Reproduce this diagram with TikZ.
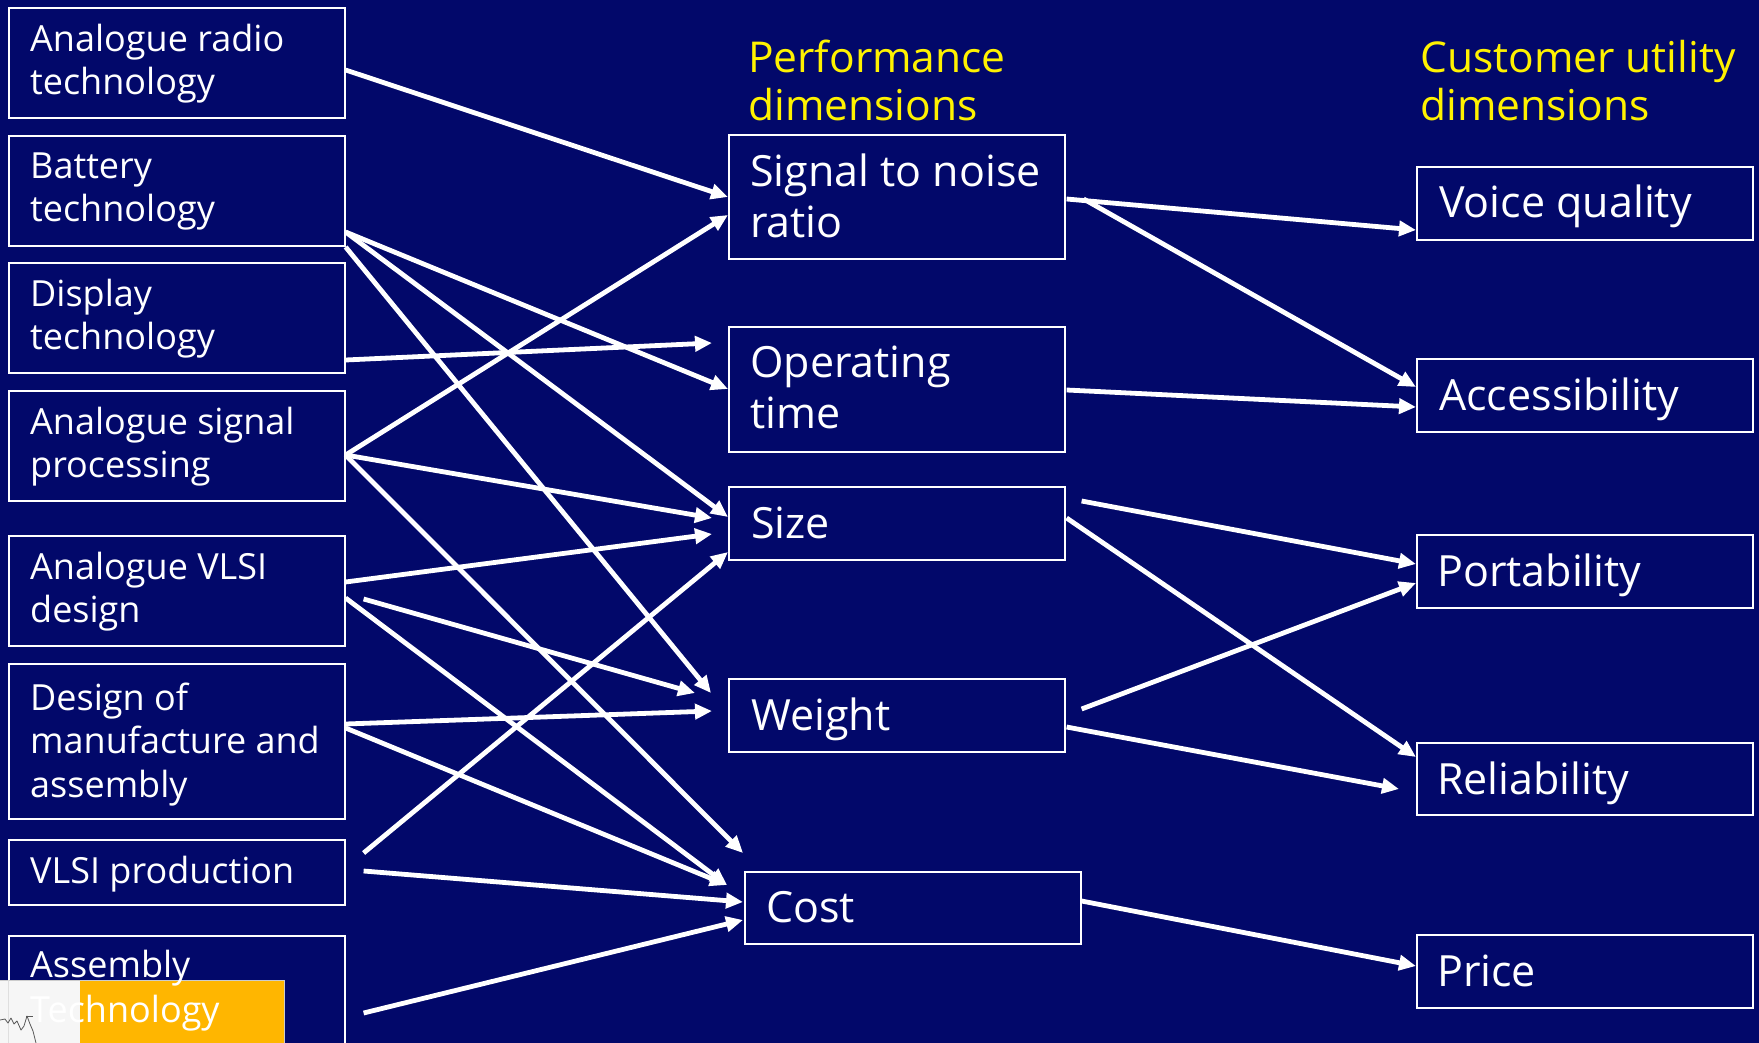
\documentclass[tikz,border=0pt]{standalone}
\usepackage{fontspec}
\setmainfont{Open Sans}
\usetikzlibrary{arrows.meta}
\definecolor{navybg}{RGB}{2,8,106}
\definecolor{ovorange}{RGB}{255,182,0}
\definecolor{ovwhite}{RGB}{246,246,246}
\begin{document}
\begin{tikzpicture}[x=1pt,y=-1pt,
  box/.style={draw=white, line width=1.6pt, inner sep=0pt, anchor=north west, fill=none},
  lbox/.style={box, minimum width=336pt},
  mbox/.style={box, minimum width=336pt},
  ltxt/.style={text=white, font=\fontsize{36}{44}\selectfont, inner sep=0pt, anchor=base west},
  mtxt/.style={text=white, font=\fontsize{43}{50}\selectfont, inner sep=0pt, anchor=base west},
  ttl/.style={text=yellow, font=\fontsize{42.5}{50}\selectfont, inner sep=0pt, anchor=base west},
  arr/.style={draw=white, line width=4.8pt, -{Triangle[length=17pt,width=15pt]}}]
\fill[navybg] (0,0) rectangle (1759,1043);
\useasboundingbox (0,0) rectangle (1759,1043);
\clip (0,0) rectangle (1759,1043);

% ---------- left column boxes ----------
\node[lbox, minimum height=110pt] (b1) at (8,7) {};
\node[lbox, minimum height=110pt] (b2) at (8,135) {};
\node[lbox, minimum height=110pt] (b3) at (8,262) {};
\node[lbox, minimum height=110pt] (b4) at (8,390) {};
\node[lbox, minimum height=110pt] (b5) at (8,535) {};
\node[lbox, minimum height=155pt] (b6) at (8,663) {};
\node[lbox, minimum height=65pt]  (b7) at (8,839) {};
\node[lbox, minimum height=130pt] (b8) at (8,935) {};

% ---------- middle column ----------
\node[mbox, minimum height=124pt] (s1) at (728,134) {};
\node[mbox, minimum height=125pt] (s2) at (728,326) {};
\node[mbox, minimum height=73pt]  (s3) at (728,486) {};
\node[mbox, minimum height=73pt]  (s4) at (728,678) {};
\node[mbox, minimum height=72pt]  (s5) at (744,871) {};

% ---------- right column ----------
\node[mbox, minimum height=73pt] (r1) at (1416,166) {};
\node[mbox, minimum height=73pt] (r2) at (1416,358) {};
\node[mbox, minimum height=73pt] (r3) at (1416,534) {};
\node[mbox, minimum height=72pt] (r4) at (1416,742) {};
\node[mbox, minimum height=73pt] (r5) at (1416,934) {};

% ---------- overlay in the lower left corner ----------
\fill[ovwhite] (0,980) rectangle (80,1043);
\fill[ovorange] (80,980) rectangle (284,1043);
\draw[gray!40, line width=0.8pt] (0,980) -- (284,980) -- (284,1043);
\draw[gray!25, line width=0.8pt] (8,980) -- (8,1043);
\draw[gray!70!black, line width=0.8pt, line join=round]
  (0,1020) -- (5,1019) -- (8,1023) -- (11,1018) -- (14,1024) -- (17,1021)
  -- (21,1030) -- (24,1026) -- (27,1016) -- (30,1024) -- (33,1031) -- (36,1043);
\draw[gray!70!black, line width=0.6pt] (26,1016) -- (33,1016);

% ---------- titles ----------
\node[ttl] (pt1) at (748,73) {Performance};
\node[ttl] (pt2) at (748,121) {dimensions};
\node[ttl] (ct1) at (1420,73) {Customer utility};
\node[ttl] (ct2) at (1420,121) {dimensions};

% ---------- left texts ----------
\node[ltxt] (t1a) at (30,52) {Analogue radio};
\node[ltxt] (t1b) at (30,95) {technology};
\node[ltxt] (t2a) at (30,179) {Battery};
\node[ltxt] (t2b) at (30,222) {technology};
\node[ltxt] (t3a) at (30,306) {Display};
\node[ltxt] (t3b) at (30,349) {technology};
\node[ltxt] (t4a) at (30,434) {Analogue signal};
\node[ltxt] (t4b) at (30,477) {processing};
\node[ltxt] (t5a) at (30,579) {Analogue VLSI};
\node[ltxt] (t5b) at (30,622) {design};
\node[ltxt] (t6a) at (30,710) {Design of};
\node[ltxt] (t6b) at (30,753) {manufacture and};
\node[ltxt] (t6c) at (30,797) {assembly};
\node[ltxt] (t7a) at (30,883) {VLSI production};
\node[ltxt] (t8a) at (30,977) {Assembly};
\node[ltxt] (t8b) at (30,1022) {Technology};

% ---------- middle texts ----------
\node[mtxt] (m1a) at (750,187) {Signal to noise};
\node[mtxt] (m1b) at (750,237) {ratio};
\node[mtxt] (m2a) at (750,377) {Operating};
\node[mtxt] (m2b) at (750,428) {time};
\node[mtxt] (m3a) at (751,538) {Size};
\node[mtxt] (m4a) at (751,730) {Weight};
\node[mtxt] (m5a) at (766,922) {Cost};

% ---------- right texts ----------
\node[mtxt] (n1a) at (1439,218) {Voice quality};
\node[mtxt] (n2a) at (1439,410) {Accessibility};
\node[mtxt] (n3a) at (1437,586) {Portability};
\node[mtxt] (n4a) at (1437,794) {Reliability};
\node[mtxt] (n5a) at (1437,986) {Price};

% ---------- connectors: technologies -> performance ----------
\draw[arr] ([shift={(0,63)}]b1.north east) -- ([shift={(0,63)}]s1.north west);
\draw[arr] ([shift={(0,97)}]b2.north east) -- ([shift={(0,63)}]s2.north west);
\draw[arr] ([shift={(0,97)}]b2.north east) -- ([shift={(0,31)}]s3.north west);
\draw[arr] ([shift={(0,112)}]b2.north east) -- ([shift={(-17,15)}]s4.north west);
\draw[arr] ([shift={(0,98)}]b3.north east) -- ([shift={(-16,17)}]s2.north west);
\draw[arr] ([shift={(0,65)}]b4.north east) -- ([shift={(0,81)}]s1.north west);
\draw[arr] ([shift={(0,65)}]b4.north east) -- ([shift={(-16,32)}]s3.north west);
\draw[arr] ([shift={(0,65)}]b4.north east) -- ([shift={(-1,-18)}]s5.north west);
\draw[arr] ([shift={(0,47)}]b5.north east) -- ([shift={(-16,48)}]s3.north west);
\draw[arr] ([shift={(0,63)}]b5.north east) -- ([shift={(-17,14)}]s5.north west);
\draw[arr] ([shift={(18,64)}]b5.north east) -- ([shift={(-33,15)}]s4.north west);
\draw[arr] ([shift={(0,61)}]b6.north east) -- ([shift={(-16,33)}]s4.north west);
\draw[arr] ([shift={(0,65)}]b6.north east) -- ([shift={(-17,14)}]s5.north west);
\draw[arr] ([shift={(18,14)}]b7.north east) -- ([shift={(0,66)}]s3.north west);
\draw[arr] ([shift={(18,32)}]b7.north east) -- ([shift={(-1,31)}]s5.north west);
\draw[arr] ([shift={(18,78)}]b8.north east) -- ([shift={(-1,49)}]s5.north west);

% ---------- connectors: performance -> customer utility ----------
\draw[arr] ([shift={(1,65)}]s1.north east) -- ([shift={(0,64)}]r1.north west);
\draw[arr] ([shift={(18,65)}]s1.north east) -- ([shift={(0,29)}]r2.north west);
\draw[arr] ([shift={(1,64)}]s2.north east) -- ([shift={(0,49)}]r2.north west);
\draw[arr] ([shift={(16,15)}]s3.north east) -- ([shift={(0,30)}]r3.north west);
\draw[arr] ([shift={(1,32)}]s3.north east) -- ([shift={(0,15)}]r4.north west);
\draw[arr] ([shift={(16,31)}]s4.north east) -- ([shift={(0,49)}]r3.north west);
\draw[arr] ([shift={(1,49)}]s4.north east) -- ([shift={(-17,47)}]r4.north west);
\draw[arr] ([shift={(0,30)}]s5.north east) -- ([shift={(0,32)}]r5.north west);
\end{tikzpicture}
\end{document}
